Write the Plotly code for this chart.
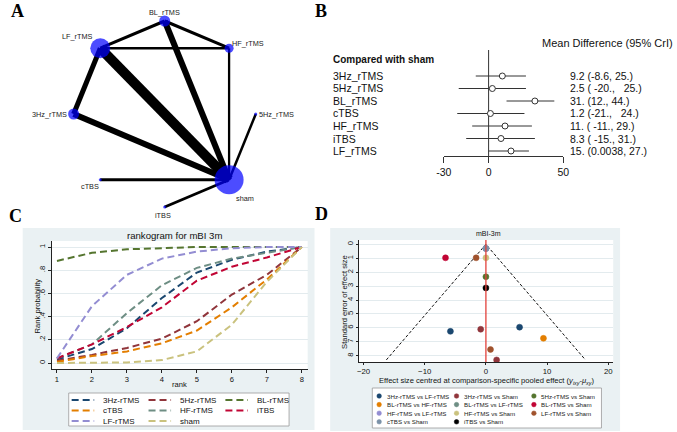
import math
import plotly.graph_objects as go

W, H = 677, 432
FONT = "Liberation Sans, Arial, sans-serif"

# ---------------- Panel A: network ----------------
net_nodes = ["BL_rTMS", "HF_rTMS", "5Hz_rTMS", "sham", "iTBS", "cTBS", "3Hz_rTMS", "LF_rTMS"]
net_node_size = [11, 9, 3, 29, 3, 3, 11, 20]
net_edge_a = ["LF_rTMS", "BL_rTMS", "LF_rTMS", "LF_rTMS", "LF_rTMS", "BL_rTMS",
              "HF_rTMS", "3Hz_rTMS", "5Hz_rTMS", "cTBS", "iTBS"]
net_edge_b = ["BL_rTMS", "HF_rTMS", "HF_rTMS", "3Hz_rTMS", "sham", "sham",
              "sham", "sham", "sham", "sham", "sham"]
net_edge_w = [3, 3, 2.3, 5, 10, 6, 2.3, 6, 2.5, 2.8, 2.8]

# ---------------- Panel B: forest plot ----------------
fp_labels = ["3Hz_rTMS", "5Hz_rTMS", "BL_rTMS", "cTBS", "HF_rTMS", "iTBS", "LF_rTMS"]
fp_md = [9.2, 2.5, 31, 1.2, 11, 8.3, 15]
fp_lo = [-8.6, -20, 12, -21, -11, -15, 0.0038]
fp_hi = [25, 25, 44, 24, 29, 31, 27]
fp_text = ["9.2 (-8.6, 25.)", "2.5 ( -20.,   25.)", "31. (12., 44.)", "1.2 (-21.,   24.)",
           "11. ( -11., 29.)", "8.3 ( -15., 31.)", "15. (0.0038, 27.)"]
fp_ticks = [-30, 0, 50]

# ---------------- Panel C: rankogram ----------------
ranks = [1, 2, 3, 4, 5, 6, 7, 8]
rank_names = ["3Hz-rTMS", "5Hz-rTMS", "BL-rTMS", "cTBS", "HF-rTMS", "iTBS", "LF-rTMS", "sham"]
rank_3hz = [0.03, 0.12, 0.30, 0.56, 0.78, 0.89, 0.96, 1.0]
rank_5hz = [0.02, 0.07, 0.13, 0.21, 0.36, 0.59, 0.76, 1.0]
rank_bl = [0.88, 0.95, 0.98, 0.99, 1.0, 1.0, 1.0, 1.0]
rank_ctbs = [0.01, 0.06, 0.10, 0.17, 0.28, 0.48, 0.72, 1.0]
rank_hf = [0.04, 0.16, 0.43, 0.67, 0.82, 0.90, 0.95, 1.0]
rank_itbs = [0.04, 0.16, 0.31, 0.48, 0.71, 0.83, 0.91, 1.0]
rank_lf = [0.04, 0.49, 0.76, 0.90, 0.96, 0.99, 1.0, 1.0]
rank_sham = [0.0, 0.0, 0.005, 0.025, 0.10, 0.33, 0.70, 1.0]
rank_values = [rank_3hz, rank_5hz, rank_bl, rank_ctbs, rank_hf, rank_itbs, rank_lf, rank_sham]
rank_colors = ["#1a476f", "#90353b", "#55752f", "#e37e00", "#6e8e84", "#c10534", "#938dd2", "#cac27e"]
rank_yticks = [0, 0.2, 0.4, 0.6, 0.8, 1.0]
rank_yticktext = ["0", ".2", ".4", ".6", ".8", "1"]

# ---------------- Panel D: comparison-adjusted funnel plot ----------------
fn_names = ["3Hz-rTMS vs LF-rTMS", "3Hz-rTMS vs Sham", "5Hz-rTMS vs Sham",
            "BL-rTMS vs HF-rTMS", "BL-rTMS vs LF-rTMS", "BL-rTMS vs Sham",
            "HF-rTMS vs LF-rTMS", "HF-rTMS vs Sham", "LF-rTMS vs Sham",
            "cTBS vs Sham", "iTBS vs Sham"]
fn_x = [[-5.8, 5.5], [-0.85, 1.75], [0.0], [9.4], [0.0], [-6.6], [0.0], [0.0],
        [-1.6, 0.75], [0.0], [0.0]]
fn_se = [[6.25, 5.95], [6.1, 8.3], [2.33], [6.75], [0.3], [0.97], [0.3], [0.97],
         [0.97, 7.55], [0.3], [3.13]]
fn_colors = ["#1a476f", "#90353b", "#55752f", "#e37e00", "#6e8e84", "#c10534",
             "#938dd2", "#cac27e", "#a0522d", "#7b92a8", "#000000"]
fn_xticks = [-20, -10, 0, 10, 20]
fn_yticks = [0, 1, 2, 3, 4, 5, 6, 7, 8]


def px(v):
    return v / W


def py(v):
    return 1 - v / H


fig = go.Figure()
shapes = []
ann = []
PANEL_BG = "#eaf1f3"
GRID = "#e3ebee"


def text_at(xp, yp, text, size, angle=0, xanchor="center", color="#111", family=None):
    f = dict(size=size, color=color)
    if family:
        f["family"] = family
    ann.append(dict(x=px(xp), y=py(yp), xref="paper", yref="paper", text=text,
                    showarrow=False, textangle=angle, xanchor=xanchor, yanchor="middle", font=f))


# ===== Panel A =====
A_cx, A_cy, A_r = 160, 114, 93
pos = {}
for i, n in enumerate(net_nodes):
    ang = math.radians(90 - 45 * i)
    pos[n] = (A_cx + A_r * math.cos(ang), A_cy - A_r * math.sin(ang))
for a, b, w in zip(net_edge_a, net_edge_b, net_edge_w):
    fig.add_trace(go.Scatter(x=[pos[a][0], pos[b][0]], y=[pos[a][1], pos[b][1]],
                             mode="lines", line=dict(color="black", width=w),
                             xaxis="x", yaxis="y", showlegend=False, hoverinfo="skip"))
fig.add_trace(go.Scatter(x=[pos[n][0] for n in net_nodes], y=[pos[n][1] for n in net_nodes],
                         mode="markers", marker=dict(size=net_node_size, color="#0000ff",
                                                     line=dict(width=0)),
                         xaxis="x", yaxis="y", showlegend=False, hoverinfo="skip"))
label_off = [(0, -8.5), (19.5, -5), (21, 0), (16, 19), (-2, 8), (-10.5, 7), (-25, 0), (-23, -11.5)]
for n, (dx, dy) in zip(net_nodes, label_off):
    ann.append(dict(x=pos[n][0] + dx, y=pos[n][1] + dy, xref="x", yref="y", text=n,
                    showarrow=False, font=dict(size=7.3, color="#222"),
                    xanchor="center", yanchor="middle"))

# ===== Panel B =====
rows = list(range(len(fp_labels)))
fig.add_trace(go.Scatter(
    x=fp_md, y=rows, mode="markers",
    marker=dict(symbol="circle", size=6, color="white", line=dict(color="#333", width=1)),
    error_x=dict(type="data", symmetric=False,
                 array=[h - m for h, m in zip(fp_hi, fp_md)],
                 arrayminus=[m - l for m, l in zip(fp_md, fp_lo)],
                 color="#333", thickness=1, width=0),
    xaxis="x2", yaxis="y2", showlegend=False, hoverinfo="skip"))
shapes.append(dict(type="line", xref="x2", yref="y2 domain", x0=0, x1=0, y0=0, y1=1,
                   line=dict(color="#333", width=1), layer="below"))
for r, lab, txt in zip(rows, fp_labels, fp_text):
    ann.append(dict(x=px(330), y=r, xref="paper", yref="y2", text=lab, showarrow=False,
                    xanchor="left", yanchor="middle", font=dict(size=10.5, color="#111")))
    ann.append(dict(x=px(572), y=r, xref="paper", yref="y2", text=txt.replace(" ", "\u00a0"),
                    showarrow=False, xanchor="left", yanchor="middle",
                    font=dict(size=10.5, color="#111")))
text_at(330, 60, "<b>Compared with sham</b>", 10, xanchor="left")
text_at(543, 43, "Mean Difference (95% CrI)", 11, xanchor="left")

# ===== Panel C =====
shapes.append(dict(type="rect", xref="paper", yref="paper", x0=px(15), x1=px(313), y0=py(430), y1=py(228),
                   fillcolor=PANEL_BG, line=dict(width=0), layer="below"))
shapes.append(dict(type="rect", xref="x3 domain", yref="y3 domain", x0=0, x1=1, y0=0, y1=1,
                   fillcolor="white", line=dict(width=0), layer="below"))
C_dash = "7px,4px"
for name, vals, col in zip(rank_names, rank_values, rank_colors):
    fig.add_trace(go.Scatter(x=ranks, y=vals, mode="lines", name=name,
                             line=dict(color=col, width=2, dash=C_dash),
                             xaxis="x3", yaxis="y3", showlegend=False, hoverinfo="skip"))
text_at(170, 235, "rankogram for mBI 3m", 9.6)
text_at(30, 306, "Rank probability", 7.6, angle=-90)
text_at(175.5, 384.5, "rank", 7.6)
# legend C
shapes.append(dict(type="rect", xref="paper", yref="paper", x0=px(62), x1=px(287), y0=py(426), y1=py(393),
                   fillcolor="white", line=dict(color="#9a9a9a", width=0.8)))
for i, (name, col) in enumerate(zip(rank_names, rank_colors)):
    c, r = i % 3, i // 3
    x0 = 65 + c * 78.5
    yy = 400 + r * 10.5
    shapes.append(dict(type="line", xref="paper", yref="paper", x0=px(x0), x1=px(x0 + 23),
                       y0=py(yy), y1=py(yy), line=dict(color=col, width=2, dash=C_dash)))
    text_at(x0 + 30, yy, name, 8, xanchor="left")

# ===== Panel D =====
shapes.append(dict(type="rect", xref="paper", yref="paper", x0=px(329), x1=px(625), y0=py(431), y1=py(228),
                   fillcolor=PANEL_BG, line=dict(width=0), layer="below"))
shapes.append(dict(type="rect", xref="x4 domain", yref="y4 domain", x0=0, x1=1, y0=0, y1=1,
                   fillcolor="white", line=dict(width=0), layer="below"))
se_max = max(max(s) for s in fn_se)
fig.add_trace(go.Scatter(x=[-1.96 * se_max, 0, 1.96 * se_max], y=[se_max, 0, se_max],
                         mode="lines", line=dict(color="#111", width=1, dash="3px,2px"),
                         xaxis="x4", yaxis="y4", showlegend=False, hoverinfo="skip"))
shapes.append(dict(type="line", xref="x4", yref="y4 domain", x0=0, x1=0, y0=0, y1=1,
                   line=dict(color="#e2413b", width=1.3)))
for name, xs, ses, col in zip(fn_names, fn_x, fn_se, fn_colors):
    fig.add_trace(go.Scatter(x=xs, y=ses, mode="markers", name=name,
                             marker=dict(size=6, color=col, line=dict(color=col, width=0.5)),
                             xaxis="x4", yaxis="y4", showlegend=False, hoverinfo="skip"))
text_at(491, 233, "mBI-3m", 7)
text_at(488.5, 381,
        "Effect size centred at comparison-specific pooled effect (<i>y</i><sub><i>ixy</i></sub>-<i>μ</i><sub><i>xy</i></sub>)",
        7.6)
text_at(343, 302, "Standard error of effect size", 7.6, angle=-90)
# legend D
shapes.append(dict(type="rect", xref="paper", yref="paper", x0=px(372), x1=px(606), y0=py(428), y1=py(388),
                   fillcolor="white", line=dict(color="#9a9a9a", width=0.8)))
for i, (name, col) in enumerate(zip(fn_names, fn_colors)):
    c, r = i % 3, i // 3
    mx = 379 + c * 79
    yy = 396 + r * 8.6
    shapes.append(dict(type="circle", xref="paper", yref="paper", xsizemode="pixel", ysizemode="pixel",
                       xanchor=px(mx), yanchor=py(yy), x0=-2.3, x1=2.3, y0=-2.3, y1=2.3,
                       fillcolor=col, line=dict(color=col, width=0.5)))
    text_at(mx + 5.5, yy, name, 6.2, xanchor="left", color="#222")

# ===== panel letters =====
for letter, (lx, ly) in zip(["A", "B", "C", "D"], [(9.5, 11), (320, 11), (7.5, 215.5), (320, 214)]):
    text_at(lx, ly, "<b>%s</b>" % letter, 18, color="black",
            family="Liberation Serif, Times New Roman, serif")

hidden = dict(visible=False, showgrid=False, zeroline=False)
axis_common = dict(showline=True, linecolor="#222", linewidth=0.8, ticks="outside",
                   tickcolor="#222", tickwidth=0.8, zeroline=False, color="#111")

fig.update_layout(
    width=W, height=H, margin=dict(l=0, r=0, t=0, b=0),
    paper_bgcolor="white", plot_bgcolor="white",
    font=dict(family=FONT, color="#111"),
    showlegend=False,
    xaxis=dict(domain=[0, px(325)], range=[0, 325], **hidden),
    yaxis=dict(domain=[py(216), 1], range=[216, 0], **hidden),
    xaxis2=dict(domain=[px(445), px(567)], range=[-30, 50], anchor="y2",
                showline=True, linecolor="#333", linewidth=1, ticks="outside", ticklen=6,
                tickcolor="#333", tickvals=fp_ticks, ticktext=[str(t) for t in fp_ticks],
                showgrid=False, zeroline=False, tickfont=dict(size=10.5, color="#111")),
    yaxis2=dict(domain=[py(156), py(50)], range=[6.4, -2.08], **hidden),
    xaxis3=dict(domain=[px(45), px(306)], range=[0.86, 8.168], anchor="y3", ticklen=3,
                tickvals=ranks, showgrid=False, tickfont=dict(size=7.6), **axis_common),
    yaxis3=dict(domain=[py(369), py(241)], range=[-0.0517, 1.0517], anchor="x3", ticklen=3,
                tickvals=rank_yticks, ticktext=rank_yticktext, tickangle=-90,
                showgrid=True, gridcolor=GRID, gridwidth=1, tickfont=dict(size=7.6), **axis_common),
    xaxis4=dict(domain=[px(358), px(618)], range=[-20.8, 20.8], anchor="y4", ticklen=2,
                tickvals=fn_xticks, showgrid=False, tickfont=dict(size=7.8), **axis_common),
    yaxis4=dict(domain=[py(362), py(240)], range=[8.45, -0.31], anchor="x4", ticklen=2,
                tickvals=fn_yticks, tickangle=-90, showgrid=True, gridcolor=GRID, gridwidth=1,
                tickfont=dict(size=7.6), **axis_common),
    shapes=shapes,
    annotations=ann,
)

fig.write_html("out.html", config={"displayModeBar": False},
               post_script="document.body.style.margin='0px';")
